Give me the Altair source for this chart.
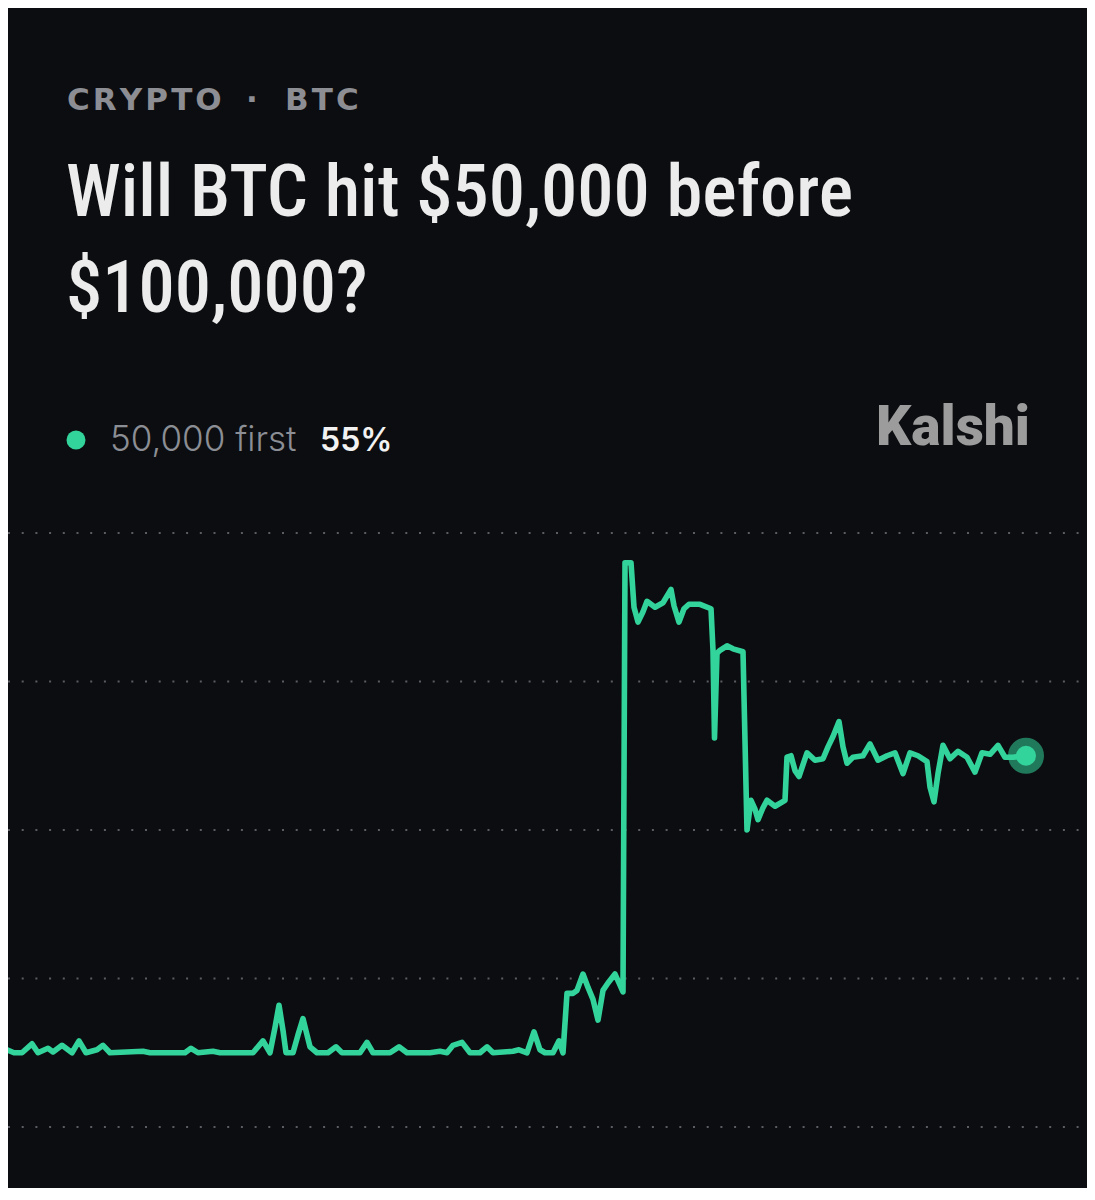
import altair as alt
import pandas as pd

# ---- data ----
# time index (relative position along the market history) and "50,000 first" chance in %
T = [0, 7, 14, 22, 32, 38, 48, 53, 62, 72, 79, 86, 97, 103, 110, 143, 150, 185, 191, 198,
     213, 220, 253, 263, 270, 275, 279, 283, 286, 293, 298, 303, 307, 310, 317, 328, 336, 342,
     360, 367, 373, 390, 399, 407, 430, 440, 447, 453, 462, 470, 480, 487, 493, 513, 519, 527,
     534, 540, 545, 553, 559, 563, 567, 573, 577, 583, 588, 593, 598, 603, 608, 615, 619, 623,
     625, 627, 631, 634, 638, 643, 647, 655, 663, 671, 674, 679, 684, 689, 700, 711, 713, 714.5,
     717, 720, 727, 733, 743, 747, 751, 755, 758, 763, 767, 775, 785, 787, 791, 795, 799, 807,
     815, 823, 828, 833, 839, 843, 847, 853, 863, 870, 878, 887, 895, 903, 910, 918, 927, 930,
     934, 938, 943, 950, 958, 967, 975, 982, 990, 998, 1005, 1013, 1026]
V = [35.0, 35.2, 35.0, 35.0, 35.6, 35.0, 35.3, 35.05, 35.5, 35.0, 35.8, 35.0, 35.2, 35.5, 35.0,
     35.1, 35.0, 35.0, 35.3, 35.0, 35.1, 35.0, 35.0, 35.8, 35.0, 36.7, 38.2, 36.5, 35.0, 35.0,
     36.2, 37.3, 36.2, 35.4, 35.0, 35.0, 35.4, 35.0, 35.0, 35.7, 35.0, 35.0, 35.4, 35.0, 35.0,
     35.1, 35.0, 35.5, 35.7, 35.0, 35.0, 35.4, 35.0, 35.1, 35.2, 35.0, 36.4, 35.2, 35.0, 35.0,
     35.8, 35.0, 39.0, 39.0, 39.2, 40.3, 39.4, 38.6, 37.2, 39.2, 39.7, 40.3, 39.7, 39.1, 68.0,
     68.0, 68.0, 65.0, 64.0, 64.7, 65.4, 65.0, 65.3, 66.2, 65.1, 64.0, 64.9, 65.2, 65.2, 64.9,
     62.1, 56.2, 61.9, 62.1, 62.4, 62.2, 62.0, 50.0, 52.0, 51.4, 50.7, 51.5, 52.0, 51.6, 52.0,
     54.9, 55.0, 54.0, 53.6, 55.2, 54.7, 54.8, 55.6, 56.3, 57.3, 55.6, 54.5, 54.9, 55.0, 55.8,
     54.7, 55.0, 55.2, 53.8, 55.2, 55.0, 54.6, 52.9, 51.9, 53.8, 55.7, 54.8, 55.3, 54.9, 53.9,
     55.2, 55.1, 55.7, 54.9, 54.9, 55.0]
GRID = [30, 40, 50, 60, 70]

KICKER_1 = "C\u200aR\u200aY\u200aP\u200aT\u200aO"
KICKER_DOT = "·"
KICKER_2 = "B\u200aT\u200aC"
TITLE_1 = "Will BTC hit $50,000 before"
TITLE_2 = "$100,000?"
LEGEND_LABEL = "50,000 first"
LEGEND_VALUE = "55%"
BRAND = "Kalshi"

# ---- styling ----
BG = "#0c0d10"
GREEN = "#33d49b"
W, H = 1079, 1180

df = pd.DataFrame({"t": T, "v": V})
last = pd.DataFrame({"t": [T[-1]], "v": [V[-1]]})
grid = pd.DataFrame({"g": GRID})
one = pd.DataFrame({"k": [0]})

xs = alt.Scale(domain=[0, 1095], range=[-8, 1087])
ys = alt.Scale(domain=[30, 70], range=[1119, 525])

gridlines = alt.Chart(grid).mark_rule(
    color="#5a5d63", strokeWidth=2, strokeDash=[2, 11.7]
).encode(
    y=alt.Y("g:Q", scale=ys, axis=None),
    x=alt.value(0),
    x2=alt.value(W),
)

line = alt.Chart(df).mark_line(
    color=GREEN, strokeWidth=5.6, strokeJoin="round", strokeCap="round"
).encode(
    x=alt.X("t:Q", scale=xs, axis=None),
    y=alt.Y("v:Q", scale=ys, axis=None),
)

halo = alt.Chart(last).mark_circle(color=GREEN, opacity=0.55, size=1300).encode(
    x=alt.X("t:Q", scale=xs, axis=None), y=alt.Y("v:Q", scale=ys, axis=None)
)
dot = alt.Chart(last).mark_circle(color=GREEN, opacity=1, size=400).encode(
    x=alt.X("t:Q", scale=xs, axis=None), y=alt.Y("v:Q", scale=ys, axis=None)
)


def txt(text, x, y, size, color, font, weight="normal", align="left"):
    return alt.Chart(one).mark_text(
        text=text, fontSize=size, color=color, font=font, fontWeight=weight,
        align=align, baseline="alphabetic"
    ).encode(x=alt.value(x), y=alt.value(y))


NARROW = "Roboto Condensed, Liberation Sans Narrow, DejaVu Sans Condensed, sans-serif"

k1 = txt(KICKER_1, 59, 102, 31, "#8c8e93", "DejaVu Sans", "bold")
kd = txt(KICKER_DOT, 244, 102, 31, "#8c8e93", "DejaVu Sans", "bold", "center")
k2 = txt(KICKER_2, 277, 102, 31, "#8c8e93", "DejaVu Sans", "bold")
t1 = txt(TITLE_1, 58, 208, 72.5, "#ececec", NARROW, 500)
t2 = txt(TITLE_2, 58, 304, 72.5, "#ececec", NARROW, 500)

leg_dot = alt.Chart(one).mark_circle(color=GREEN, opacity=1, size=360).encode(
    x=alt.value(68), y=alt.value(432)
)
leg_lab = txt(LEGEND_LABEL, 102, 443, 35, "#8b8e94", "Inter", 300)
leg_val = txt(LEGEND_VALUE, 312, 443, 32, "#f2f2f2", "Inter", 600)
brand = txt(BRAND, 1022, 437, 55, "#9c9c9c", "Roboto", 900, "right")

chart = alt.layer(
    gridlines, line, halo, dot, k1, kd, k2, t1, t2, leg_dot, leg_lab, leg_val, brand
).properties(
    width=W, height=H, padding=0,
    autosize=alt.AutoSizeParams(type="none"),
    background=BG,
).configure_view(strokeWidth=0)

chart.save("out.html", embed_options={"renderer": "svg", "actions": False})
